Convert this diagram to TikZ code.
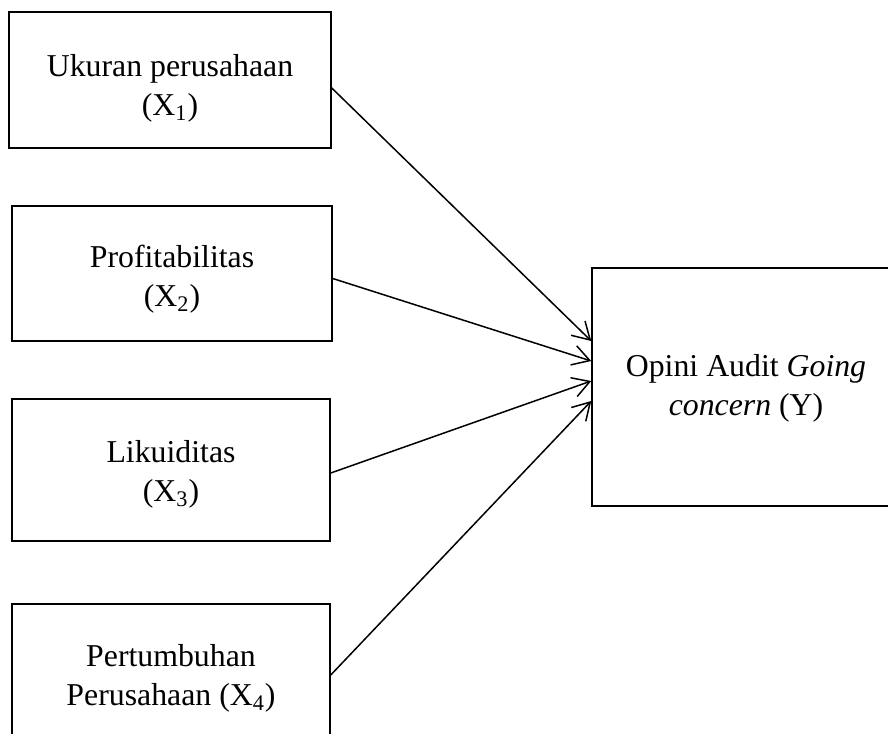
\documentclass[tikz,border=0pt]{standalone}
\usepackage{fontspec}
\setmainfont{Liberation Serif}
\usetikzlibrary{arrows.meta}
\begin{document}
\begin{tikzpicture}[x=0.5pt,y=-0.5pt,
  varbox/.style={draw, line width=0.75pt, inner sep=0pt},
  lbl/.style={align=center, inner sep=0pt, font=\fontsize{15.9}{19.5}\selectfont},
  arr/.style={line width=0.75pt, -{Straight Barb[length=8.5pt,width=10pt,line width=0.75pt]}}]
\useasboundingbox (0,0) rectangle (888,733);
\node[varbox, minimum width=161pt, minimum height=68pt] (x1) at (170,80) {};
\node[varbox, minimum width=160pt, minimum height=67.5pt] (x2) at (172,273.5) {};
\node[varbox, minimum width=159pt, minimum height=71pt] (x3) at (171,470) {};
\node[varbox, minimum width=159pt, minimum height=69pt] (x4) at (171,673) {};
\node[varbox, minimum width=154pt, minimum height=119pt] (y) at (746,387) {};
\node[lbl] (t1) at ([yshift=-4pt]x1.center) {Ukuran perusahaan\\(X\textsubscript{1})};
\node[lbl] (t2) at ([yshift=-3pt]x2.center) {Profitabilitas\\(X\textsubscript{2})};
\node[lbl] (t3) at ([yshift=-2pt]x3.center) {Likuiditas\\(X\textsubscript{3})};
\node[lbl] (t4) at ([yshift=-2.5pt]x4.center) {Pertumbuhan\\Perusahaan (X\textsubscript{4})};
\node[lbl] (ty) at ([yshift=-0.5pt]y.center) {Opini Audit \textit{Going}\\\textit{concern} (Y)};
\draw[arr] ([yshift=-4pt]x1.east) -- ([yshift=23pt]y.west);
\draw[arr] ([yshift=-2.5pt]x2.east) -- ([yshift=13pt]y.west);
\draw[arr] ([yshift=-1.5pt]x3.east) -- ([yshift=3pt]y.west);
\draw[arr] ([yshift=-1pt]x4.east) -- ([yshift=-7pt]y.west);
\end{tikzpicture}
\end{document}
